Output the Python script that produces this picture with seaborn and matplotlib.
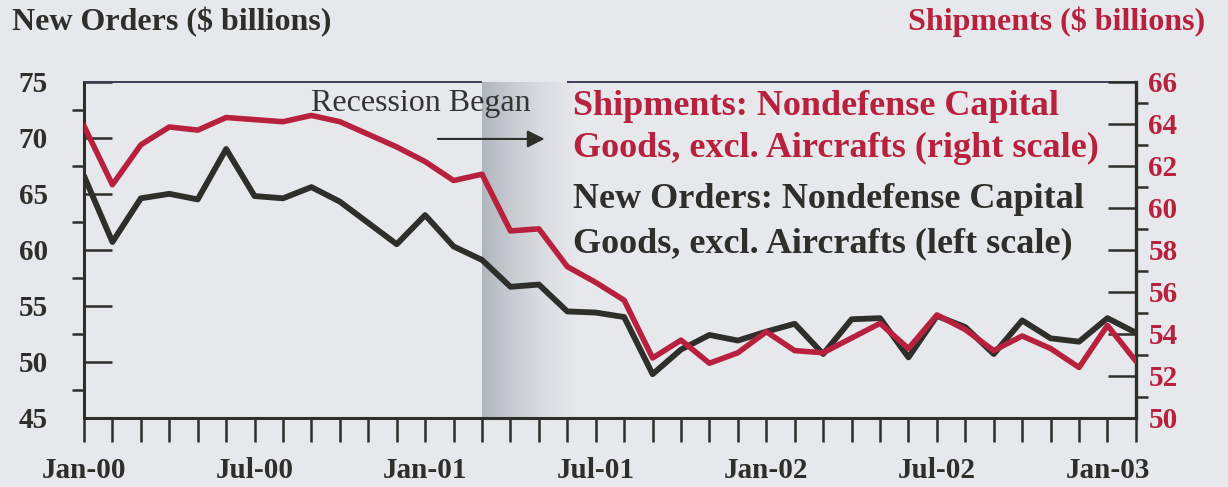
import numpy as np
import pandas as pd
import matplotlib
matplotlib.use('Agg')
import matplotlib.pyplot as plt
import seaborn as sns
from matplotlib.colors import LinearSegmentedColormap

# monthly values, Jan-00 .. Feb-03
months = list(pd.date_range('2000-01-01', periods=38, freq='MS').strftime('%b-%y'))
new_orders = [66.6, 60.7, 64.6, 65.0, 64.5, 69.0, 64.8, 64.6, 65.6, 64.3,
              62.4, 60.5, 63.1, 60.3, 59.1, 56.7, 56.9, 54.5, 54.4, 54.0,
              48.9, 51.1, 52.4, 51.9, 52.7, 53.4, 50.7, 53.8, 53.9, 50.4,
              54.1, 53.1, 50.7, 53.7, 52.1, 51.8, 53.9, 52.6]
shipments = [63.9, 61.1, 63.0, 63.85, 63.7, 64.3, 64.2, 64.1, 64.4, 64.1,
             63.5, 62.9, 62.2, 61.3, 61.6, 58.9, 59.0, 57.2, 56.45, 55.6,
             52.85, 53.7, 52.6, 53.1, 54.1, 53.2, 53.1, 53.8, 54.5, 53.3,
             54.9, 54.2, 53.2, 53.9, 53.3, 52.4, 54.4, 52.7]
xtick_pos = [0, 6, 12, 18, 24, 30, 36]
xtick_labels = ['Jan-00', 'Jul-00', 'Jan-01', 'Jul-01', 'Jan-02', 'Jul-02', 'Jan-03']
rec_start, rec_end = 14, 17   # Mar-01 .. Jun-01 shaded band

df = pd.DataFrame({'month': range(len(months)), 'new_orders': new_orders, 'shipments': shipments})

sns.set_theme(style='ticks')
plt.rcParams['font.family'] = ['Liberation Serif', 'DejaVu Serif']

bg = '#e6e8eb'
red = '#b8213d'
dark = '#2e2e2b'

fig, ax = plt.subplots(figsize=(12.28, 4.87), dpi=100, facecolor=bg)
fig.subplots_adjust(left=0.0684, right=0.925, top=0.832, bottom=0.142)
ax.set_facecolor(bg)
ax2 = ax.twinx()

# recession band, fading from grey to background
cmap = LinearSegmentedColormap.from_list('rec', ['#b0b6bd', '#c9cdd2', '#dadde1', bg])
ax.imshow(np.linspace(0, 1, 256).reshape(1, -1), cmap=cmap, aspect='auto',
          extent=[rec_start, rec_end + 0.3, 45, 75], zorder=1)

sns.lineplot(data=df, x='month', y='new_orders', ax=ax, color=dark, linewidth=4.2, zorder=3)
sns.lineplot(data=df, x='month', y='shipments', ax=ax2, color=red, linewidth=4.0, zorder=3)

for a in (ax, ax2):
    a.set_xlabel('')
    a.set_ylabel('')
ax.set_xlim(0, len(months) - 1)
ax.set_ylim(45, 75)
ax2.set_ylim(50, 66)

# x axis
ax.set_xticks(xtick_pos)
ax.set_xticklabels(xtick_labels, fontsize=21, fontweight='bold', color=dark)
ax.set_xticks(range(len(months)), minor=True)
ax.tick_params(axis='x', which='both', direction='out', length=17, width=1.8, color=dark, pad=11)

# left axis
ax.set_yticks(range(45, 76, 5))
ax.set_yticks(np.arange(47.5, 75, 5), minor=True)
ax.tick_params(axis='y', which='major', direction='in', length=20, width=1.8, color=dark,
               pad=26, labelsize=21, labelcolor=dark)
ax.tick_params(axis='y', which='minor', direction='out', length=8.5, width=1.8, color=dark)
for lbl in ax.get_yticklabels():
    lbl.set_fontweight('bold')

# right axis
ax2.set_yticks(range(50, 67, 2))
ax2.set_yticks(range(51, 66, 2), minor=True)
ax2.tick_params(axis='y', which='major', direction='in', length=20, width=1.8, color=dark,
                pad=9, labelsize=21, labelcolor=red)
ax2.tick_params(axis='y', which='minor', direction='out', length=8.5, width=1.8, color=dark)
for lbl in ax2.get_yticklabels():
    lbl.set_fontweight('bold')

for s in ('top', 'right'):
    ax.spines[s].set_visible(False)
for s in ('top', 'left', 'bottom'):
    ax2.spines[s].set_visible(False)
ax.spines['left'].set_linewidth(2.2)
ax.spines['bottom'].set_linewidth(2.2)
ax2.spines['right'].set_linewidth(2.4)
for sp in ax.spines.values():
    sp.set_color(dark)
ax2.spines['right'].set_color(dark)

# top frame line, broken by the recession band
ax.hlines([75, 75], [0, rec_end], [rec_start, len(months) - 1], color='#3b3f55', lw=1.4,
          clip_on=False, zorder=4)

ax.text(8.0, 72.35, 'Recession Began', fontsize=23, color='#333333', ha='left', va='baseline')
ax.annotate('', xy=(16.3, 69.9), xytext=(12.35, 69.9),
            arrowprops=dict(arrowstyle='-|>', color=dark, lw=1.5, mutation_scale=26))

ax.text(0.465, 0.902, 'Shipments: Nondefense Capital', transform=ax.transAxes,
        fontsize=26, fontweight='bold', color=red, va='baseline')
ax.text(0.465, 0.777, 'Goods, excl. Aircrafts (right scale)', transform=ax.transAxes,
        fontsize=26, fontweight='bold', color=red, va='baseline')
ax.text(0.465, 0.625, 'New Orders: Nondefense Capital', transform=ax.transAxes,
        fontsize=26, fontweight='bold', color=dark, va='baseline')
ax.text(0.465, 0.494, 'Goods, excl. Aircrafts (left scale)', transform=ax.transAxes,
        fontsize=26, fontweight='bold', color=dark, va='baseline')

fig.text(12 / 1228, 1 - 30 / 487, 'New Orders ($ billions)', ha='left', va='baseline',
         fontsize=23, fontweight='bold', color=dark)
fig.text(1205 / 1228, 1 - 30 / 487, 'Shipments ($ billions)', ha='right', va='baseline',
         fontsize=23, fontweight='bold', color=red)

fig.savefig('out.png', dpi=100, facecolor=bg)
